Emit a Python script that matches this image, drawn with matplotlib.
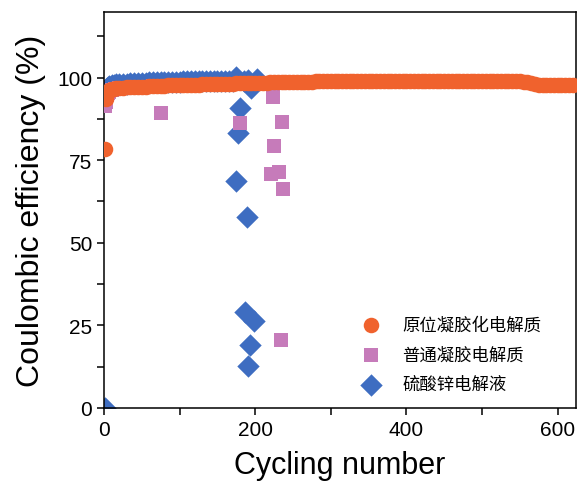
import numpy as np
import matplotlib.pyplot as plt

plt.rcParams['font.family'] = ['Liberation Sans', 'Noto Sans CJK SC', 'DejaVu Sans']

# ---------- data ----------
# 原位凝胶化电解质 (orange circles)
orange_x = [1, 2, 3, 4, 5, 7, 10, 13, 16, 20] + list(range(25, 621, 5))
orange_y = [78.5, 93.5, 94.8, 95.3, 95.8, 96.2, 96.5, 96.7, 96.8, 96.9,
            # 25-100
            97.0, 97.1, 97.1, 97.2, 97.2, 97.3, 97.3, 97.4, 97.5, 97.5,
            97.6, 97.6, 97.7, 97.7, 97.7, 97.8,
            # 105-200
            97.8, 97.8, 97.9, 97.9, 97.9, 98.0, 98.0, 98.0, 98.1, 98.1,
            98.1, 98.2, 98.2, 98.2, 98.3, 98.3, 98.3, 98.4, 98.4, 98.4,
            # 205-300
            98.5, 98.5, 98.5, 98.6, 98.6, 98.6, 98.7, 98.7, 98.7, 98.7,
            98.8, 98.8, 98.8, 98.8, 98.8, 98.9, 98.9, 98.9, 98.9, 98.9,
            # 305-400
            98.9, 98.9, 99.0, 98.9, 98.9, 99.0, 98.9, 98.9, 99.0, 98.9,
            98.9, 99.0, 98.9, 98.9, 99.0, 98.9, 98.9, 99.0, 99.0, 99.0,
            # 405-500
            99.0, 99.0, 99.1, 99.0, 99.0, 99.1, 99.0, 99.0, 99.1, 99.0,
            99.0, 99.1, 99.0, 99.0, 99.1, 99.0, 99.0, 99.1, 99.0, 99.0,
            # 505-620
            99.0, 99.0, 99.1, 99.0, 99.0, 99.1, 99.0, 99.0, 99.0, 98.9,
            98.8, 98.6, 98.3, 98.1, 97.9, 97.8, 97.8, 97.8, 97.8, 97.8,
            97.8, 97.9, 97.8, 97.8]

# 普通凝胶电解质 (pink squares)
pink_x = [1, 2, 3, 4, 5, 7, 10] + list(range(15, 221, 5)) + \
         [75, 180, 223, 235, 225, 231, 221, 237, 234]
pink_y = [91.5, 92.5, 93.8, 94.8, 95.3, 95.8, 96.2,
          # 15-220
          96.7, 96.8, 96.9, 97.0, 97.0, 97.1, 97.1, 97.2, 97.2, 97.3,
          97.4, 97.4, 97.5, 97.5, 97.6, 97.6, 97.6, 97.7, 97.7, 97.7,
          97.8, 97.8, 97.8, 97.9, 97.9, 97.9, 98.0, 98.0, 98.0, 98.1,
          98.1, 98.1, 98.2, 98.2, 98.2, 98.3, 98.3, 98.3, 98.4, 98.4,
          98.4, 98.5,
          # outliers
          89.4, 86.4, 94.2, 86.7, 79.4, 71.5, 70.9, 66.4, 20.6]

# 硫酸锌电解液 (blue diamonds)
blue_x = [1, 2, 3, 4, 5, 7, 10, 13, 16, 20] + list(range(25, 171, 5)) + \
         [185, 190, 174, 202, 194, 180, 177, 174, 189, 186, 199, 193, 190]
blue_y = [0.0, 95.0, 96.3, 97.0, 97.3, 97.6, 97.8, 97.9, 98.0, 98.0,
          # 25-170
          98.1, 98.2, 98.3, 98.3, 98.4, 98.5, 98.5, 98.6, 98.6, 98.7,
          98.7, 98.7, 98.8, 98.8, 98.8, 98.8, 98.9, 98.9, 98.9, 98.9,
          98.9, 99.0, 99.0, 99.0, 99.0, 99.0, 99.0, 99.1, 99.1, 99.1,
          # 185-205 and outliers
          99.1, 99.2, 100.3, 99.6, 96.8, 90.9, 83.3, 68.8, 57.9, 29.1,
          26.4, 19.1, 12.7]

labels = ['原位凝胶化电解质', '普通凝胶电解质', '硫酸锌电解液']
colors = ['#F0622D', '#C67BBA', '#3E6DC1']

# ---------- figure ----------
fig = plt.figure(figsize=(5.81, 4.85), dpi=100)
ax = fig.add_axes([0.179, 0.157, 0.812, 0.817])

hb = ax.scatter(blue_x, blue_y, s=130, marker='D', color=colors[2],
                linewidths=0, zorder=2)
hp = ax.scatter(pink_x, pink_y, s=115, marker='s', color=colors[1],
                linewidths=0, zorder=3)
ho = ax.scatter(orange_x, orange_y, s=125, marker='o', color=colors[0],
                linewidths=0, zorder=4)

ax.set_xlim(0, 624)
ax.set_ylim(0, 120)
ax.set_xticks([0, 200, 400, 600])
ax.set_xticks([100, 300, 500], minor=True)
ax.set_yticks([0, 25, 50, 75, 100])
ax.set_yticks([12.5, 37.5, 62.5, 87.5, 112.5], minor=True)
ax.tick_params(which='both', direction='out', length=5, width=1.1,
               labelsize=15, top=False, right=False)
for sp in ax.spines.values():
    sp.set_linewidth(1.1)

ax.set_xlabel('Cycling number', fontsize=22, labelpad=8)
ax.set_ylabel('Coulombic efficiency (%)', fontsize=23, labelpad=8)

leg = ax.legend([ho, hp, hb], labels, loc='upper left',
                bbox_to_anchor=(0.496, 0.272), frameon=False,
                prop={'family': ['Noto Sans CJK SC'], 'size': 12.5},
                labelspacing=0.68, handletextpad=0.8, scatterpoints=1)

fig.savefig('out.png', dpi=100)
